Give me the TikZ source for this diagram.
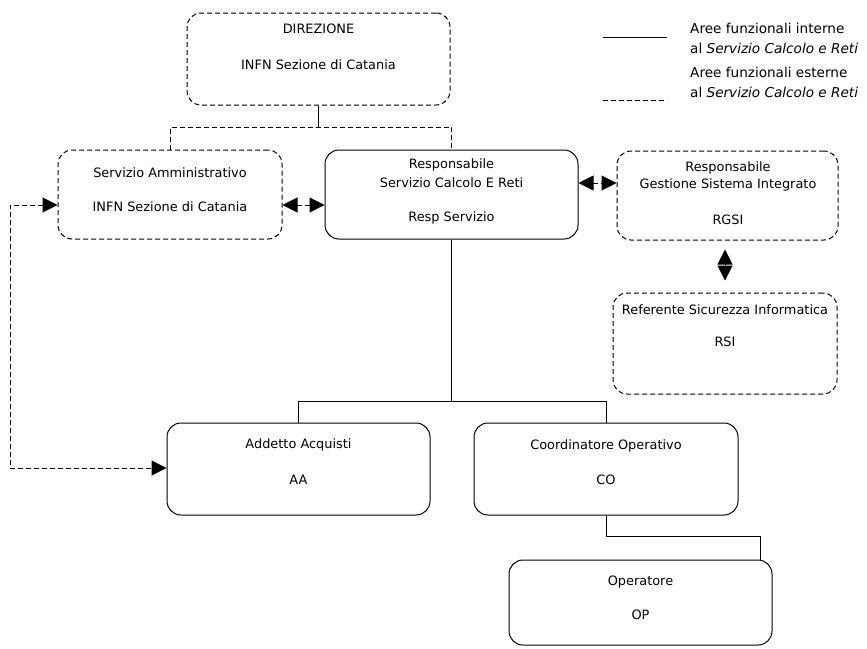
\documentclass[tikz,border=0pt]{standalone}
\usepackage{fontspec}
\setmainfont{DejaVu Sans}
\usetikzlibrary{arrows.meta}
\begin{document}
\begin{tikzpicture}[x=1pt,y=-1pt,
  box/.style={draw, line width=1pt, rounded corners=14pt, inner sep=0pt},
  intbox/.style={box},
  extbox/.style={box, dash pattern=on 5pt off 3pt},
  txt/.style={inner sep=0pt, font=\fontsize{12.9}{15}\selectfont},
  legtxt/.style={inner sep=0pt, anchor=west, font=\fontsize{13.6}{16}\selectfont},
  intline/.style={line width=1pt},
  extline/.style={line width=1pt, dash pattern=on 5pt off 3pt},
  biarrow/.style={extline, {Triangle[length=15pt,width=15pt]}-{Triangle[length=15pt,width=15pt]}}
]
\useasboundingbox (0,0) rectangle (867,648);

% boxes
\node[extbox, minimum width=263pt, minimum height=92pt] (dir) at (318.5,59) {};
\node[extbox, minimum width=224pt, minimum height=89pt] (sa) at (170,194.5) {};
\node[intbox, minimum width=253pt, minimum height=89pt] (resp) at (451.5,194.5) {};
\node[extbox, minimum width=221pt, minimum height=89pt] (rgsi) at (727.5,195.5) {};
\node[extbox, minimum width=224pt, minimum height=101pt] (rsi) at (725,343.5) {};
\node[intbox, minimum width=263pt, minimum height=92pt] (aa) at (298.5,469) {};
\node[intbox, minimum width=264pt, minimum height=92pt] (co) at (606,469) {};
\node[intbox, minimum width=263pt, minimum height=85pt] (op) at (640.5,602.5) {};

% texts
\node[txt] (dirA) at (318.5,29) {DIREZIONE};
\node[txt] (dirB) at (318.5,65) {INFN Sezione di Catania};
\node[txt] (saA) at (170,173) {Servizio Amministrativo};
\node[txt] (saB) at (170,207) {INFN Sezione di Catania};
\node[txt] (respA) at (451.5,165) {Responsabile};
\node[txt] (respB) at (451.5,183) {Servizio Calcolo E Reti};
\node[txt] (respC) at (451.5,218) {Resp Servizio};
\node[txt] (rgsiA) at (728,168) {Responsabile};
\node[txt] (rgsiB) at (728,185) {Gestione Sistema Integrato};
\node[txt] (rgsiC) at (728,220) {RGSI};
\node[txt] (rsiA) at (725,310) {Referente Sicurezza Informatica};
\node[txt] (rsiB) at (725,342) {RSI};
\node[txt] (aaA) at (298.5,445) {Addetto Acquisti};
\node[txt] (aaB) at (298.5,480) {AA};
\node[txt] (coA) at (606,446) {Coordinatore Operativo};
\node[txt] (coB) at (606,480) {CO};
\node[txt] (opA) at (640.5,582) {Operatore};
\node[txt] (opB) at (640.5,615) {OP};

% junction coordinates
\coordinate (j1) at (0,127);
\coordinate (j2) at (0,401);
\coordinate (j3) at (760,536);
\coordinate (a1) at (0,205);
\coordinate (a2) at (0,183);
\coordinate (l1) at (10,205);
\coordinate (l2) at (10,468);

% connectors
\draw[intline] (dir.south) -- (dir.south |- j1);
\draw[extline] (sa.north) -- (sa.north |- j1) -- (resp.north |- j1) -- (resp.north);
\draw[intline] (resp.south) -- (resp.south |- j2);
\draw[intline] (aa.north) -- (aa.north |- j2) -- (co.north |- j2) -- (co.north);
\draw[intline] (co.south) |- (j3) -- (j3 |- op.north);
\draw[biarrow] (sa.east |- a1) -- (resp.west |- a1);
\draw[biarrow] (resp.east |- a2) -- (rgsi.west |- a2);
\draw[biarrow, shorten <=9pt, shorten >=12pt] (rsi.north |- rgsi.south) -- (rsi.north);
\draw[biarrow] (sa.west |- l1) -- (l1) -- (l2) -- (aa.west |- l2);

% legend
\coordinate (lg1) at (603,37);
\coordinate (lg2) at (667,37);
\coordinate (lg3) at (603,100);
\coordinate (lg4) at (667,100);
\draw[intline] (lg1) -- (lg2);
\draw[extline] (lg3) -- (lg4);
\node[legtxt] (legA) at (690,28) {Aree funzionali interne};
\node[legtxt] (legB) at (690,48) {al \textit{Servizio Calcolo e Reti}};
\node[legtxt] (legC) at (690,72) {Aree funzionali esterne};
\node[legtxt] (legD) at (690,92) {al \textit{Servizio Calcolo e Reti}};
\end{tikzpicture}
\end{document}
